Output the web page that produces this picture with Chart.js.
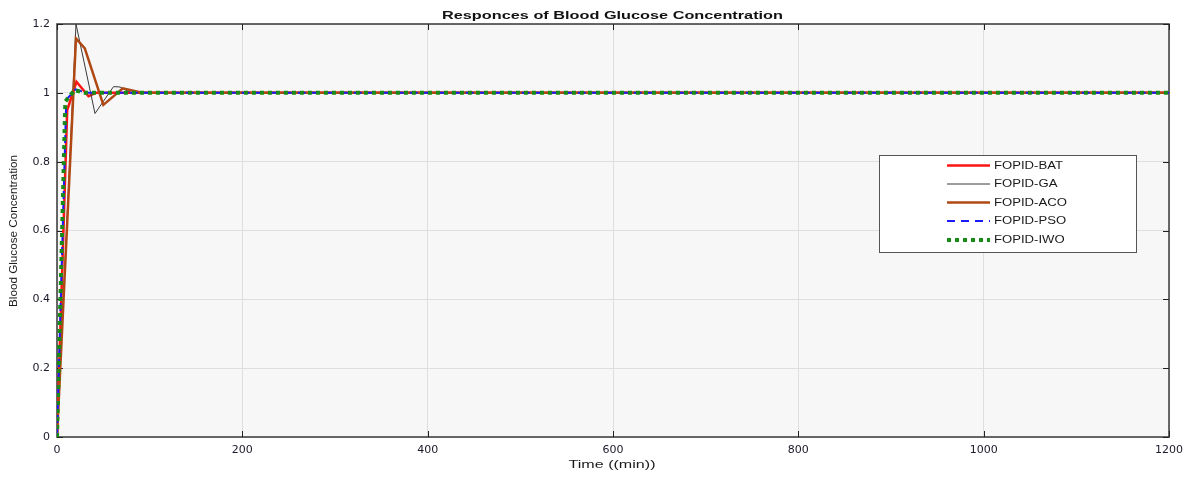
<!DOCTYPE html>
<html><head><meta charset="utf-8">
<script src="https://cdn.jsdelivr.net/npm/chart.js@4"></script>
<style>html,body{margin:0;padding:0;background:#fff;} canvas{display:block;}</style>
</head><body>
<canvas id="c" width="1191" height="478"></canvas>
<script>
// ---- data ----
const chartTitle = 'Responces of Blood Glucose Concentration';
const xAxisTitle = 'Time ((min))';
const yAxisTitle = 'Blood Glucose Concentration';
const seriesNames = ['FOPID-BAT', 'FOPID-GA', 'FOPID-ACO', 'FOPID-PSO', 'FOPID-IWO'];

const batTime  = [0, 11, 21, 34, 42, 1200];
const batValue = [0, 0.95, 1.032, 0.99, 1.0, 1.0];

const gaTime  = [0, 20.5, 41, 61, 68, 80, 1200];
const gaValue = [0, 1.2, 0.94, 1.018, 1.017, 1.0, 1.0];

const acoTime  = [0, 20.5, 30, 50, 71, 92, 1200];
const acoValue = [0, 1.158, 1.129, 0.965, 1.013, 1.0, 1.0];

const psoTime  = [0, 10, 20, 32, 1200];
const psoValue = [0, 0.98, 1.01, 1.0, 1.0];

const iwoTime  = [0, 9, 19, 30, 1200];
const iwoValue = [0, 0.975, 1.008, 1.0, 1.0];

const xTickValues = [0, 200, 400, 600, 800, 1000, 1200];
const xTickLabels = ['0', '200', '400', '600', '800', '1000', '1200'];
const yTickValues = [0, 0.2, 0.4, 0.6, 0.8, 1.0, 1.2];
const yTickLabels = ['0', '0.2', '0.4', '0.6', '0.8', '1', '1.2'];

// ---- helpers ----
const pts = (t, v) => t.map((x, i) => ({x: x, y: v[i]}));

const styles = [
  {color: '#ff1414', width: 2.5, dash: [], order: 4},
  {color: '#3a3a3a', width: 1, dash: [], order: 3},
  {color: '#b04814', width: 2.5, dash: [], order: 2},
  {color: '#1a1aff', width: 2, dash: [8, 6], order: 1},
  {color: '#178a17', width: 4, dash: [4, 4], order: 0}
];
const seriesData = [pts(batTime, batValue), pts(gaTime, gaValue), pts(acoTime, acoValue), pts(psoTime, psoValue), pts(iwoTime, iwoValue)];

const datasets = seriesNames.map((n, i) => ({
  label: n,
  data: seriesData[i],
  borderColor: styles[i].color,
  backgroundColor: styles[i].color,
  borderWidth: styles[i].width,
  borderDash: styles[i].dash,
  borderCapStyle: 'butt',
  borderJoinStyle: 'miter',
  pointRadius: 0,
  tension: 0,
  fill: false,
  order: styles[i].order
}));

// draw text stretched horizontally to a target width (the reference uses wide text)
function fitText(ctx, text, x, y, targetW) {
  const w = ctx.measureText(text).width;
  const k = targetW / w;
  ctx.save();
  ctx.translate(x, y);
  ctx.scale(k, 1);
  ctx.fillText(text, 0, 0);
  ctx.restore();
}

const frame = {
  id: 'frame',
  beforeDraw(chart) {
    const {ctx, chartArea: a} = chart;
    ctx.save();
    ctx.fillStyle = '#f7f7f7';
    ctx.fillRect(a.left, a.top, a.right - a.left, a.bottom - a.top);
    ctx.restore();
  },
  beforeDatasetsDraw(chart) {
    const {ctx, chartArea: a, scales} = chart;
    ctx.save();
    ctx.strokeStyle = '#444444';
    ctx.lineWidth = 1.6;
    ctx.strokeRect(a.left, a.top, a.right - a.left, a.bottom - a.top);
    ctx.strokeStyle = '#222222';
    ctx.lineWidth = 1;
    ctx.beginPath();
    xTickValues.forEach(v => {
      const px = Math.round(scales.x.getPixelForValue(v)) + 0.5;
      ctx.moveTo(px, a.bottom); ctx.lineTo(px, a.bottom - 6);
      ctx.moveTo(px, a.top); ctx.lineTo(px, a.top + 6);
    });
    yTickValues.forEach(v => {
      const py = Math.round(scales.y.getPixelForValue(v)) + 0.5;
      ctx.moveTo(a.left, py); ctx.lineTo(a.left + 6, py);
      ctx.moveTo(a.right, py); ctx.lineTo(a.right - 6, py);
    });
    ctx.stroke();
    ctx.restore();
  },
  afterDatasetsDraw(chart) {
    const {ctx} = chart;
    ctx.save();
    const bx = 879.5, by = 155.5, bw = 257, bh = 97;
    ctx.fillStyle = '#ffffff';
    ctx.fillRect(bx, by, bw, bh);
    ctx.strokeStyle = '#555555';
    ctx.lineWidth = 1;
    ctx.strokeRect(bx, by, bw, bh);
    const rows = [165.5, 184, 202.5, 221, 240];
    ctx.font = '10px "Liberation Sans", "DejaVu Sans", sans-serif';
    const k = 69 / ctx.measureText(seriesNames[0]).width;
    seriesNames.forEach((n, i) => {
      const s = styles[i];
      ctx.strokeStyle = s.color;
      ctx.lineWidth = i === 4 ? 4 : s.width;
      ctx.setLineDash(s.dash);
      ctx.lineCap = 'butt';
      ctx.beginPath();
      ctx.moveTo(947, rows[i]); ctx.lineTo(990, rows[i]);
      ctx.stroke();
      ctx.setLineDash([]);
      ctx.save();
      ctx.translate(994, rows[i]);
      ctx.scale(k, 1);
      ctx.fillStyle = '#1a1a1a';
      ctx.textBaseline = 'middle';
      ctx.textAlign = 'left';
      ctx.fillText(n, 0, 0.5);
      ctx.restore();
    });
    ctx.restore();
  },
  afterDraw(chart) {
    const {ctx, chartArea: a} = chart;
    ctx.save();
    ctx.fillStyle = '#111111';
    ctx.textAlign = 'center';
    ctx.textBaseline = 'alphabetic';
    ctx.font = 'bold 11.5px "Liberation Sans", "DejaVu Sans", sans-serif';
    fitText(ctx, chartTitle, 612.5, 18.5, 341);
    ctx.fillStyle = '#1a1a1a';
    ctx.font = '10.5px "Liberation Sans", "DejaVu Sans", sans-serif';
    fitText(ctx, xAxisTitle, 612, 467.5, 87);
    ctx.save();
    ctx.translate(14, 231);
    ctx.rotate(-Math.PI / 2);
    ctx.font = '11px "Liberation Sans", "DejaVu Sans", sans-serif';
    ctx.textBaseline = 'middle';
    fitText(ctx, yAxisTitle, 0, 0, 152);
    ctx.restore();
    ctx.restore();
  }
};

new Chart(document.getElementById('c'), {
  type: 'line',
  data: {datasets: datasets},
  options: {
    responsive: false,
    devicePixelRatio: 1,
    animation: false,
    events: [],
    layout: {padding: {top: 24, right: 22, left: 0, bottom: 0}},
    plugins: {legend: {display: false}, title: {display: false}, tooltip: {enabled: false}},
    scales: {
      x: {
        type: 'linear', min: 0, max: 1200,
        afterBuildTicks: s => { s.ticks = xTickValues.map(v => ({value: v})); },
        afterFit: s => { s.height = 41; },
        ticks: {
          callback: (v, i) => xTickLabels[i],
          font: {family: '"DejaVu Sans", sans-serif', size: 11},
          color: '#1a1a2a', padding: 7, maxRotation: 0, autoSkip: false
        },
        grid: {color: '#dedede', lineWidth: 1, drawTicks: false},
        border: {display: false}
      },
      y: {
        type: 'linear', min: 0, max: 1.2,
        afterBuildTicks: s => { s.ticks = yTickValues.map(v => ({value: v})); },
        afterFit: s => { s.width = 57; },
        ticks: {
          callback: (v, i) => yTickLabels[i],
          font: {family: '"DejaVu Sans", sans-serif', size: 11},
          color: '#1a1a2a', padding: 7, autoSkip: false
        },
        grid: {color: '#dedede', lineWidth: 1, drawTicks: false},
        border: {display: false}
      }
    }
  },
  plugins: [frame]
});
</script>
</body></html>
